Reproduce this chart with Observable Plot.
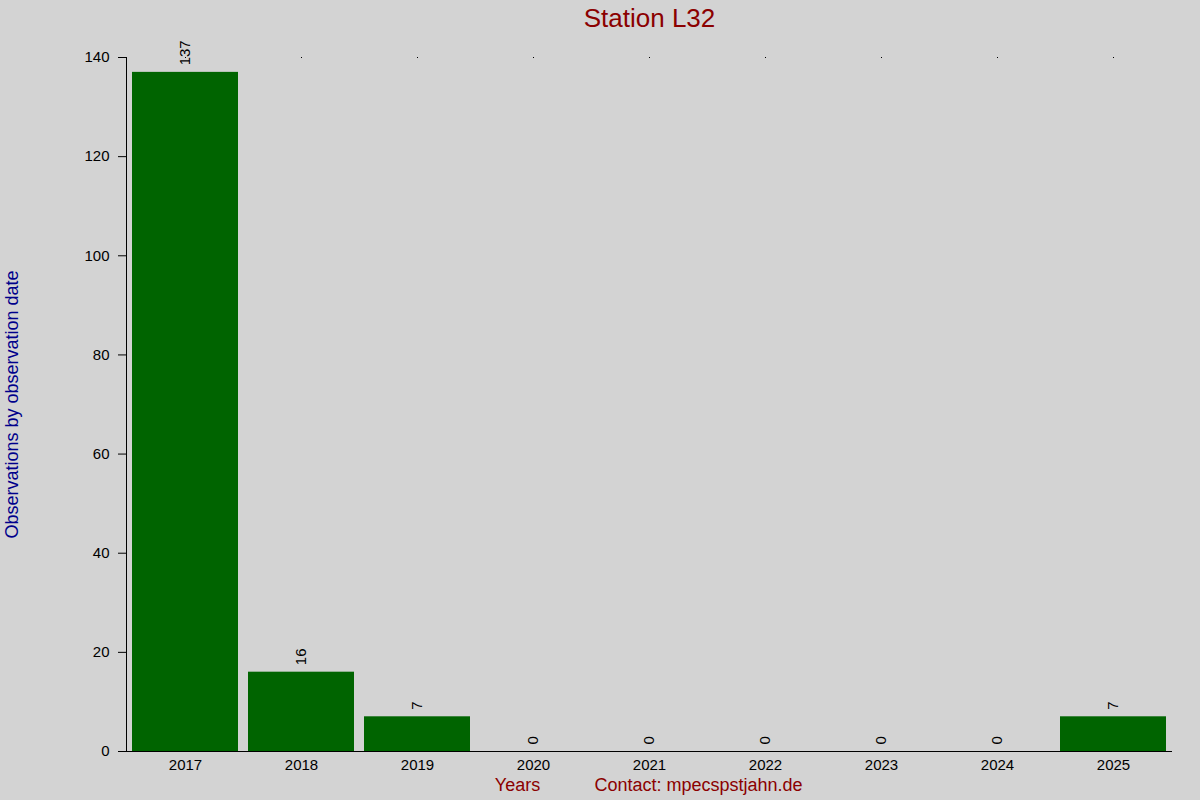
<!DOCTYPE html>
<html>
<head>
<meta charset="utf-8">
<script src="https://cdn.jsdelivr.net/npm/d3@7"></script>
<script src="https://cdn.jsdelivr.net/npm/@observablehq/plot@0.6"></script>
<style>
  html, body { margin: 0; padding: 0; background: #d3d3d3; }
</style>
</head>
<body>
<div id="chart"></div>
<script>
const years = ["2017", "2018", "2019", "2020", "2021", "2022", "2023", "2024", "2025"];
const counts = [137, 16, 7, 0, 0, 0, 0, 0, 7];
const yTicks = [0, 20, 40, 60, 80, 100, 120, 140];
const titleText = "Station L32";
const yLabelText = "Observations by observation date";
const xLabelText = "Years";
const contactText = "Contact: mpecspstjahn.de";

const data = years.map((y, i) => ({year: y, count: counts[i]}));
const font = "'Liberation Sans', Arial, sans-serif";

const chart = Plot.plot({
  width: 1200,
  height: 800,
  marginLeft: 126,
  marginRight: 28,
  marginTop: 57,
  marginBottom: 49,
  style: {background: "#d3d3d3", fontFamily: font, fontSize: "15px", color: "black", overflow: "visible"},
  x: {domain: years, paddingInner: 0.09, paddingOuter: 0.045},
  y: {domain: [0, 140]},
  marks: [
    Plot.barY(data, {x: "year", y: "count", fill: "#006400"}),
    Plot.ruleY([0], {stroke: "black", strokeWidth: 1}),
    Plot.axisY({ticks: yTicks, tickSize: 8, tickPadding: 9, label: null, fontSize: 15}),
    Plot.axisX({tickSize: 0, tickPadding: 8, label: null, fontSize: 15}),
    Plot.axisX({anchor: "top", tickSize: 1, tickFormat: () => "", label: null}),
    Plot.text(data, {x: "year", y: "count", text: d => String(d.count), rotate: -90, textAnchor: "start", dy: -7, fontSize: 15, fill: "black"}),
    Plot.text([titleText], {frameAnchor: "top", dy: -39, lineAnchor: "middle", fontSize: 26, fill: "#8b0000"}),
    Plot.text([yLabelText], {frameAnchor: "left", dx: -114, rotate: -90, textAnchor: "middle", lineAnchor: "middle", fontSize: 18, fill: "#00008b"}),
    Plot.text([xLabelText], {frameAnchor: "bottom", dx: -132, dy: 34, textAnchor: "middle", lineAnchor: "middle", fontSize: 18, fill: "#8b0000"}),
    Plot.text([contactText], {frameAnchor: "bottom", dx: 49, dy: 34, textAnchor: "middle", lineAnchor: "middle", fontSize: 18, fill: "#8b0000"})
  ]
});

// y axis line along the left edge of the frame
const xr = chart.scale("x").range;
const yr = chart.scale("y").range;
d3.select(chart).append("line")
  .attr("x1", xr[0] + 0.5).attr("x2", xr[0] + 0.5)
  .attr("y1", yr[0]).attr("y2", yr[1])
  .attr("stroke", "black");

document.getElementById("chart").appendChild(chart);
</script>
</body>
</html>
